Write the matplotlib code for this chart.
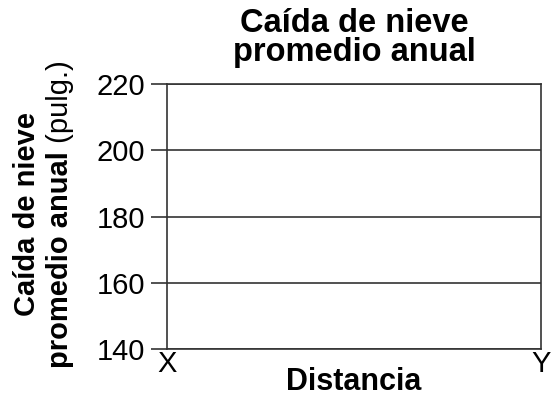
import matplotlib
matplotlib.use('Agg')
import matplotlib.pyplot as plt

# chart values
y_ticks = [140, 160, 180, 200, 220]
x_ticks = [0, 1]
x_labels = ['X', 'Y']

plt.rcParams['font.family'] = ['Liberation Sans', 'DejaVu Sans']
line_col = '#333333'

fig = plt.figure(figsize=(5.51, 4.0), dpi=100)
ax = fig.add_axes([167 / 551, 1 - 349 / 400, (541 - 167) / 551, (349 - 84) / 400])

ax.set_xlim(x_ticks[0], x_ticks[-1])
ax.set_ylim(y_ticks[0], y_ticks[-1])
ax.set_yticks(y_ticks)
ax.set_xticks(x_ticks)
ax.set_xticklabels(x_labels)
ax.tick_params(axis='y', length=11.5, width=1.2, color=line_col, labelsize=21, pad=4)
ax.tick_params(axis='x', length=0, labelsize=21, pad=0.5)
ax.grid(axis='y', color=line_col, linewidth=1.2)
for s in ax.spines.values():
    s.set_color(line_col)
    s.set_linewidth(1.2)

ax.set_title('Caída de nieve\npromedio anual', fontsize=23.5, fontweight='bold',
             linespacing=0.9, pad=16.5)
ax.set_xlabel('Distancia', fontsize=22, fontweight='bold', labelpad=-8)

# y label: two rotated lines, second mixes bold and normal
fig.canvas.draw()
r = fig.canvas.get_renderer()
yc = 1 - 214 / 400
fig.text(27 / 551, yc, 'Caída de nieve', rotation=90, fontsize=21,
         fontweight='bold', ha='center', va='center')
t1 = fig.text(60 / 551, 0, 'promedio anual', rotation=90, fontsize=21,
              fontweight='bold', ha='center', va='bottom')
t2 = fig.text(60 / 551, 0, ' (pulg.)', rotation=90, fontsize=21,
              ha='center', va='bottom')
h1 = t1.get_window_extent(r).height / fig.bbox.height
h2 = t2.get_window_extent(r).height / fig.bbox.height
y0 = yc - (h1 + h2) / 2
t1.set_y(y0)
t2.set_y(y0 + h1)

fig.savefig('out.png', dpi=100)
